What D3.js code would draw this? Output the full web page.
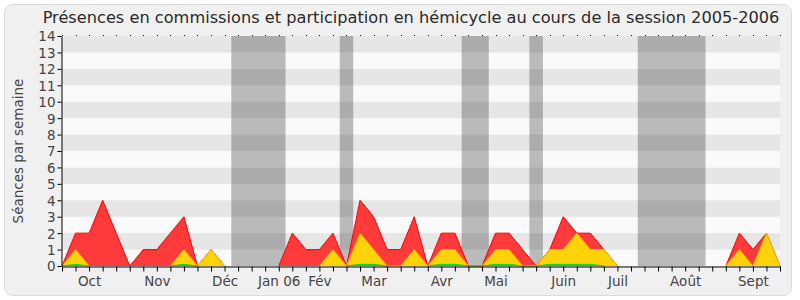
<!DOCTYPE html>
<html><head><meta charset="utf-8">
<script src="https://cdn.jsdelivr.net/npm/d3@7"></script>
<style>body{margin:0;background:#fff}svg{display:block}text{font-family:"DejaVu Sans",Verdana,sans-serif}</style>
</head><body>
<svg id="c" width="800" height="300"></svg>
<script>
const title = "Présences en commissions et participation en hémicycle au cours de la session 2005-2006";
const yLabel = "Séances par semaine";
const weeks = d3.range(54);
const monthLabels = ["Oct","Nov","Déc","Jan 06","Fév","Mar","Avr","Mai","Juin","Juil","Août","Sept"];
const monthWeeks = [2,7,12,16,19,23,28,32,37,41,46,51];
const yTicks = d3.range(0,15);
// vacation periods, inclusive week indices
const vacations = [[13,16],[21,21],[30,31],[35,35],[43,47]];
// series: red (total), yellow, green
const red =    [0,2,2,4,2,0,1,1,2,3,0,1,0,0,0,0,0,2,1,1,2,0,4,3,1,1,3,0,2,2,0,0,2,2,1,0,1,3,2,2,1,0,0,0,0,0,0,0,0,0,2,1,2,0];
const yellow = [0,1,0,0,0,0,0,0,0,1,0,1,0,0,0,0,0,0,0,0,1,0,2,1,0,0,1,0,1,1,0,0,1,1,0,0,1,1,2,1,1,0,0,0,0,0,0,0,0,0,1,0,2,0];
const green =  [0,0.1,0,0,0,0,0,0,0,0.1,0,0,0,0,0,0,0,0,0,0,0,0,0.1,0.1,0,0,0,0,0.1,0.1,0,0,0.1,0.1,0,0,0.1,0.1,0.1,0.1,0,0,0,0,0,0,0,0,0,0,0,0,0,0];

const svg = d3.select("#c");
const L=62, R=780, T=36, B=266;
const x = d3.scaleLinear().domain([0,53]).range([L,R]);
const y = d3.scaleLinear().domain([0,14]).range([B,T]);

svg.append("rect").attr("x",4.5).attr("y",4.5).attr("width",787).attr("height",291).attr("rx",8)
  .attr("fill","#f0f0f0").attr("stroke","#dcdcdc");

svg.append("text").attr("x",411).attr("y",23).attr("text-anchor","middle")
  .attr("font-size",16.2).attr("fill","#2a2a2a").text(title);

// stripes
const g = svg.append("g");
d3.range(0,14).forEach(i=>{
  g.append("rect").attr("x",L).attr("width",R-L).attr("y",y(i+1)).attr("height",y(i)-y(i+1))
   .attr("fill", i%2===1 ? "#e6e6e6" : "#fafafa");
});
// vacations
vacations.forEach(v=>{
  g.append("rect").attr("x",x(v[0]-0.5)).attr("width",x(v[1]+0.5)-x(v[0]-0.5))
   .attr("y",T).attr("height",B-T).attr("fill","rgb(40,40,40)").attr("fill-opacity",0.3);
});
// top dots
weeks.forEach(w=>{
  g.append("rect").attr("x",Math.round(x(w))).attr("y",T-1).attr("width",1).attr("height",1).attr("fill","#000");
});

const area = d3.area().x((d,i)=>x(i)).y0(y(0)).y1(d=>y(d));
const series = [
  {v:red, fill:"#ff3a3a", stroke:"#ff0000"},
  {v:yellow, fill:"#ffd20a", stroke:"#ffb400"},
  {v:green, fill:"#22cc22", stroke:"#00e000"}
];
series.forEach(s=>{
  const active = (d,i)=> d>0 || (i>0 && s.v[i-1]>0) || (i<s.v.length-1 && s.v[i+1]>0);
  const line = d3.line().defined(active).x((d,i)=>x(i)).y(d=>y(d));
  svg.append("path").datum(s.v).attr("d",area).attr("fill",s.fill);
  svg.append("path").datum(s.v).attr("d",line).attr("fill","none").attr("stroke",s.stroke).attr("stroke-width",1);
});

// axes
const ax = svg.append("g").attr("transform",`translate(${L-0.5},0)`)
  .call(d3.axisLeft(y).tickValues(yTicks).tickSize(4).tickSizeOuter(0).tickPadding(2));
const bx = svg.append("g").attr("transform",`translate(0,${B+0.5})`)
  .call(d3.axisBottom(x).tickValues(weeks).tickSize(5).tickSizeOuter(0).tickPadding(5)
    .tickFormat(w=>{const k=monthWeeks.indexOf(w);return k>=0?monthLabels[k]:"";}));
[ax,bx].forEach(a=>{
  a.selectAll("text").attr("font-size",13.5).attr("fill","#444").style("font-family",'"DejaVu Sans",Verdana,sans-serif');
  a.select(".domain").attr("stroke","#000");
  a.selectAll(".tick line").attr("stroke","#000");
});
ax.selectAll("text").attr("dy","0.36em");

svg.append("text").attr("transform","translate(23,151) rotate(-90)").attr("text-anchor","middle")
  .attr("font-size",13.5).attr("fill","#444").text(yLabel);
</script>
</body></html>
